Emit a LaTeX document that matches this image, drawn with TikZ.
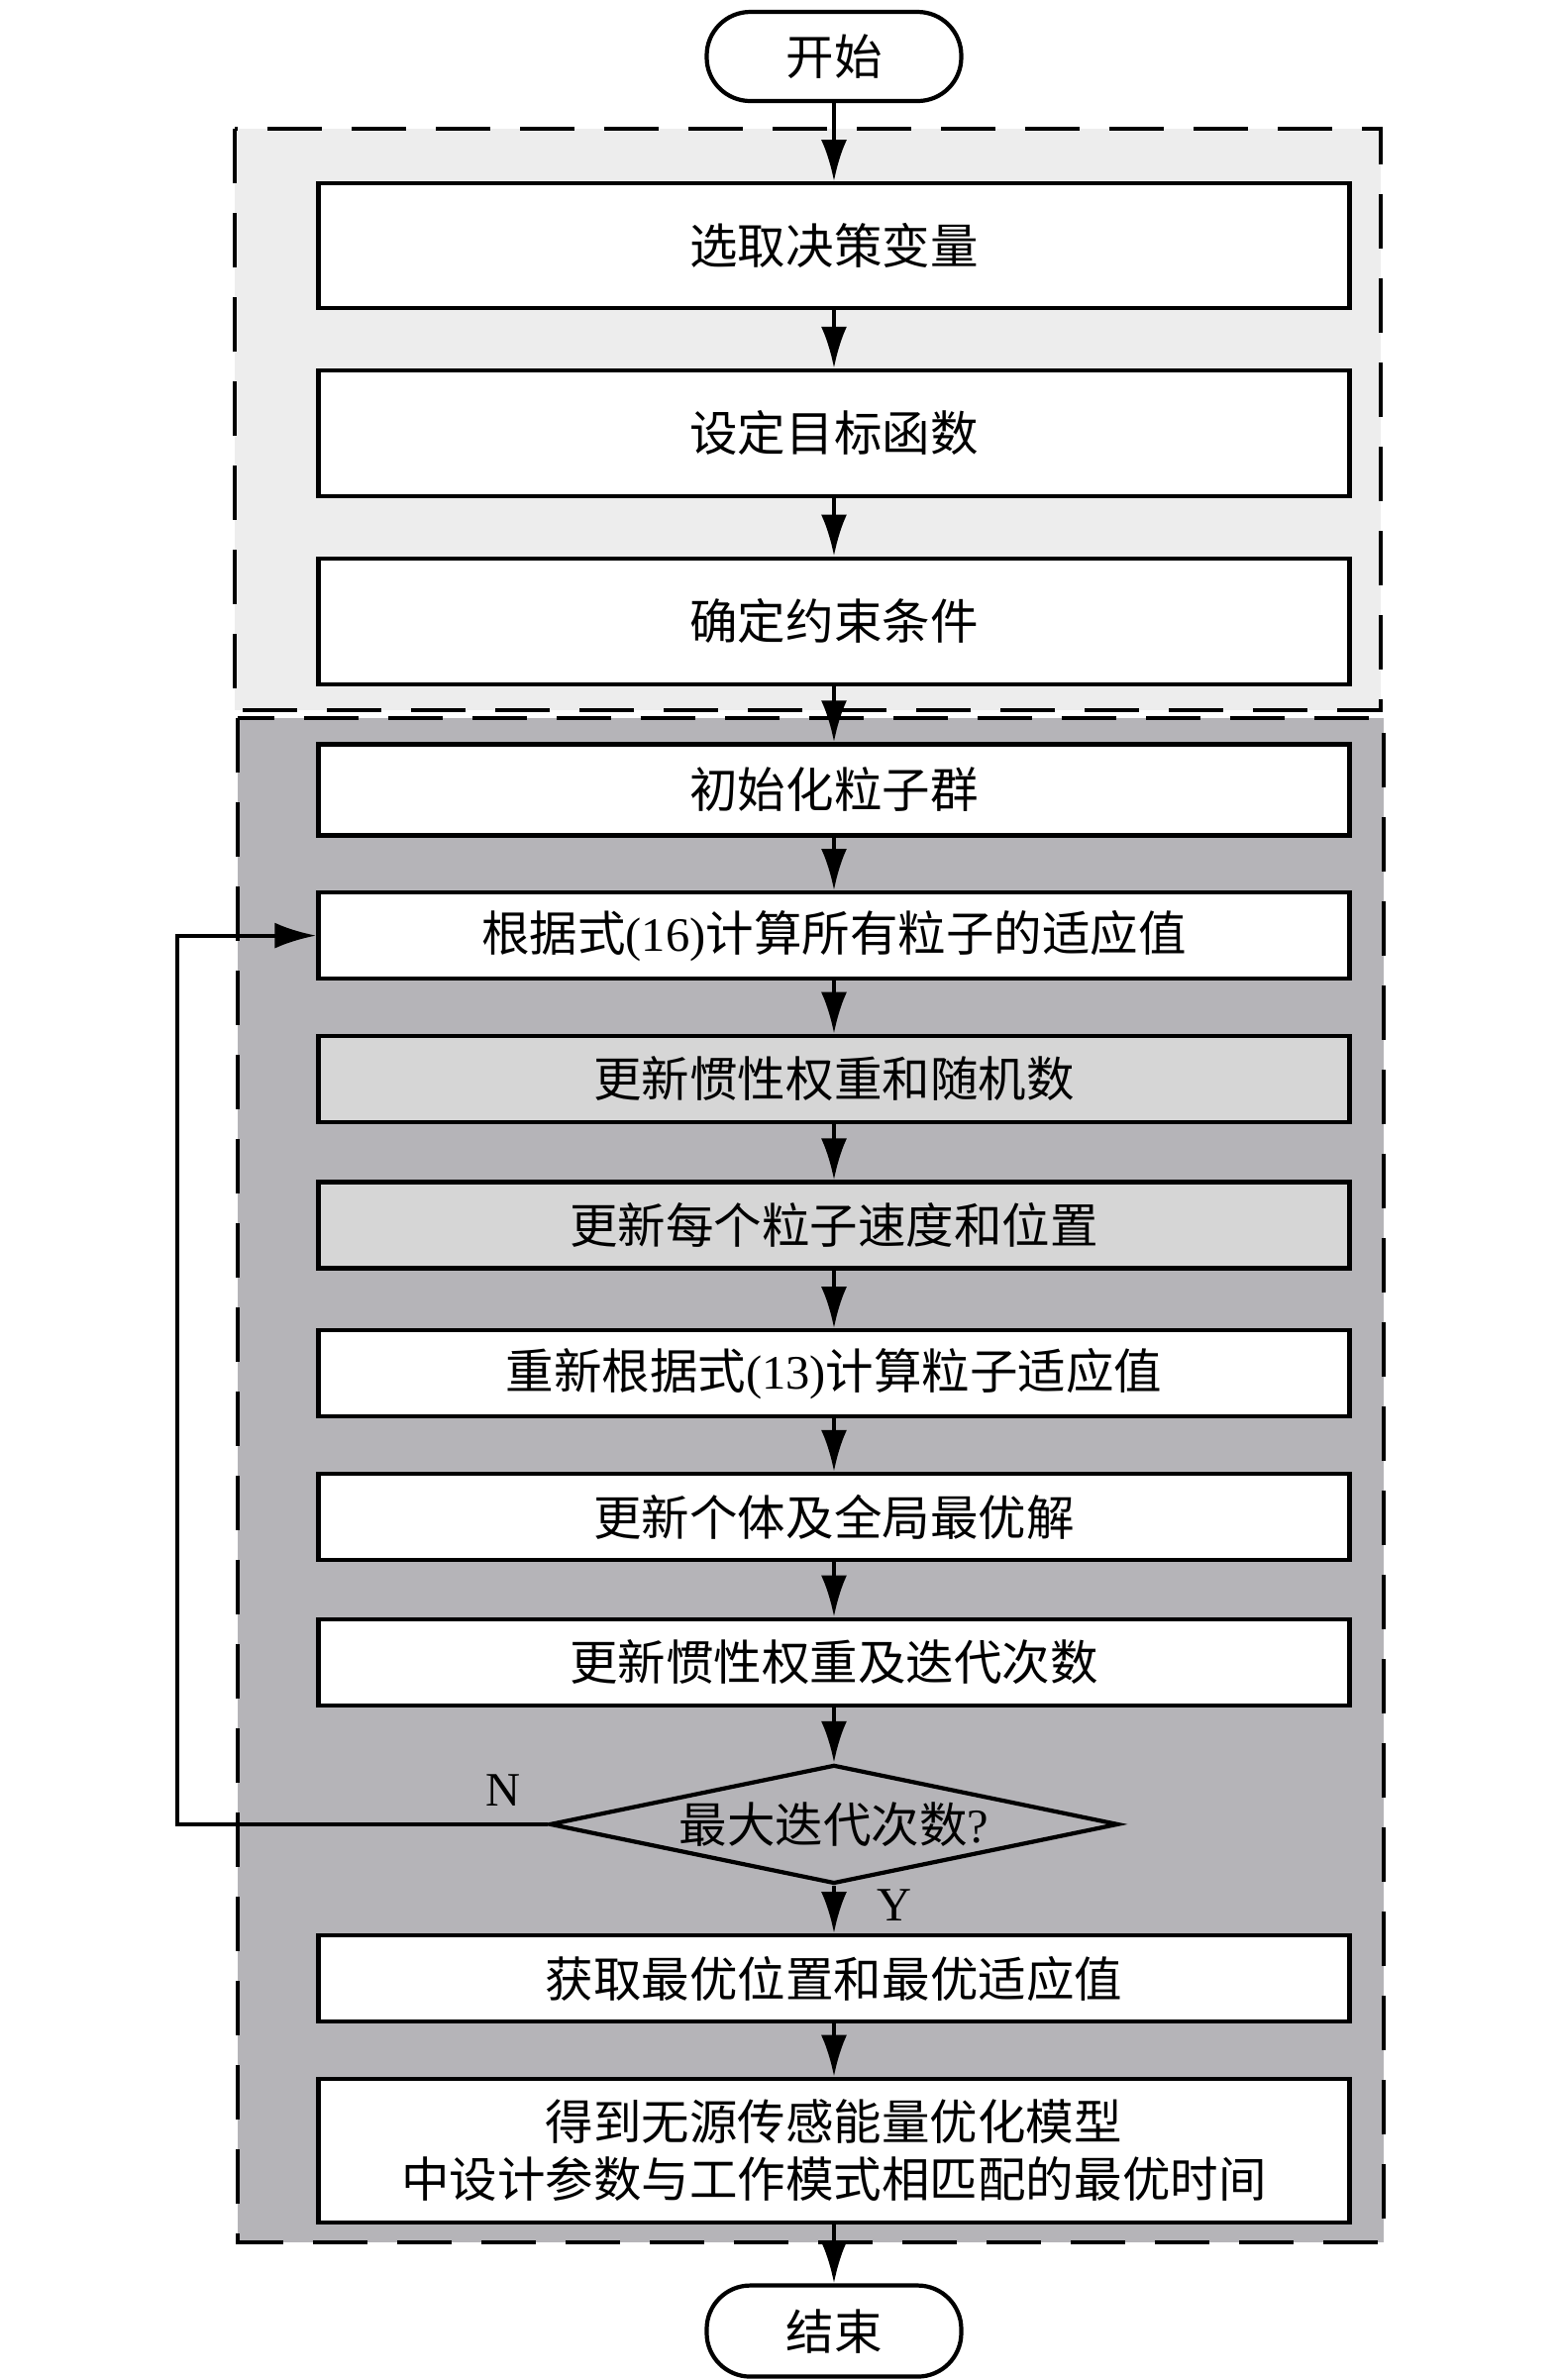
\documentclass[tikz,border=0pt]{standalone}
\usepackage{fontspec}
\setmainfont{Liberation Serif}
\newfontfamily\cjk{Noto Sans CJK SC}
\usepackage{tikz}
\usetikzlibrary{arrows.meta,shapes.geometric,positioning}
\definecolor{regionlight}{RGB}{237,237,237}
\definecolor{regiondark}{RGB}{181,180,184}
\definecolor{boxgray}{RGB}{214,214,214}
\tikzstyle{arrow} = [line width=1.2pt,-{Latex[length=4.2mm,width=2.6mm]}]
\tikzstyle{procbox} = [rectangle, minimum width=10.41cm, minimum height=0.87cm, text centered, draw=black, fill=white, line width=1.2pt, font=\fontsize{13.8}{16.5}\selectfont\cjk]
\tikzstyle{termbox} = [rectangle, rounded corners=0.44cm, minimum width=2.57cm, minimum height=0.9cm, draw=black, fill=white, line width=1.2pt, font=\fontsize{13.8}{16.5}\selectfont\cjk]
\tikzstyle{decbox} = [diamond, aspect=5, inner sep=0pt, minimum width=5.74cm, minimum height=1.2cm, draw=black, fill=regiondark, line width=1.2pt, font=\fontsize{13.8}{16.5}\selectfont\cjk]
\tikzstyle{region} = [dash pattern=on 0.55cm off 0.3cm, line width=1.2pt]
\tikzstyle{yesno} = [font=\fontsize{13.8}{16.5}\selectfont]

\begin{document}
\begin{tikzpicture}
\useasboundingbox (0,0) rectangle (15.75,-24.03);
% dashed regions
\fill[regionlight] (2.37,-1.30) rectangle (13.94,-7.17);
\draw[region] (2.37,-1.30) rectangle (13.94,-7.17);
\fill[regiondark] (2.40,-7.25) rectangle (13.97,-22.64);
\draw[region] (2.40,-7.25) rectangle (13.97,-22.64);

\node[termbox] (start) at (8.42,-0.57) {开始};
\node[procbox, minimum height=1.26cm, below=0.79cm of start] (b1) {选取决策变量};
\node[procbox, minimum height=1.27cm, below=0.585cm of b1] (b2) {设定目标函数};
\node[procbox, minimum height=1.27cm, below=0.585cm of b2] (b3) {确定约束条件};
\node[procbox, minimum height=0.92cm, below=0.565cm of b3] (b4) {初始化粒子群};
\node[procbox, below=0.535cm of b4] (b5) {根据式{\rmfamily(16)}计算所有粒子的适应值};
\node[procbox, fill=boxgray, below=0.535cm of b5] (b6) {更新惯性权重和随机数};
\node[procbox, fill=boxgray, below=0.565cm of b6] (b7) {更新每个粒子速度和位置};
\node[procbox, below=0.585cm of b7] (b8) {重新根据式{\rmfamily(13)}计算粒子适应值};
\node[procbox, below=0.535cm of b8] (b9) {更新个体及全局最优解};
\node[procbox, below=0.555cm of b9] (b10) {更新惯性权重及迭代次数};
\node[decbox, below=0.56cm of b10] (dec) {最大迭代次数{\rmfamily?}};
\node[procbox, below=0.48cm of dec] (b11) {获取最优位置和最优适应值};
\node[procbox, minimum height=1.45cm, align=center, below=0.535cm of b11] (b12) {得到无源传感能量优化模型\\中设计参数与工作模式相匹配的最优时间};
\node[termbox, minimum height=0.92cm, below=0.595cm of b12] (stop) {结束};

\foreach \a/\b in {start/b1,b1/b2,b2/b3,b3/b4,b4/b5,b5/b6,b6/b7,b7/b8,b8/b9,b9/b10,b10/dec,b11/b12,b12/stop}
  \draw[arrow] (\a) -- (\b);
\draw[arrow] (dec) -- node[yesno, pos=0.4, right=0.3cm] {Y} (b11);
\draw[arrow] (dec.west) -- node[yesno, pos=0.12, above=0.05cm] {N} ++(-3.74,0) |- (b5.west);
\end{tikzpicture}
\end{document}
